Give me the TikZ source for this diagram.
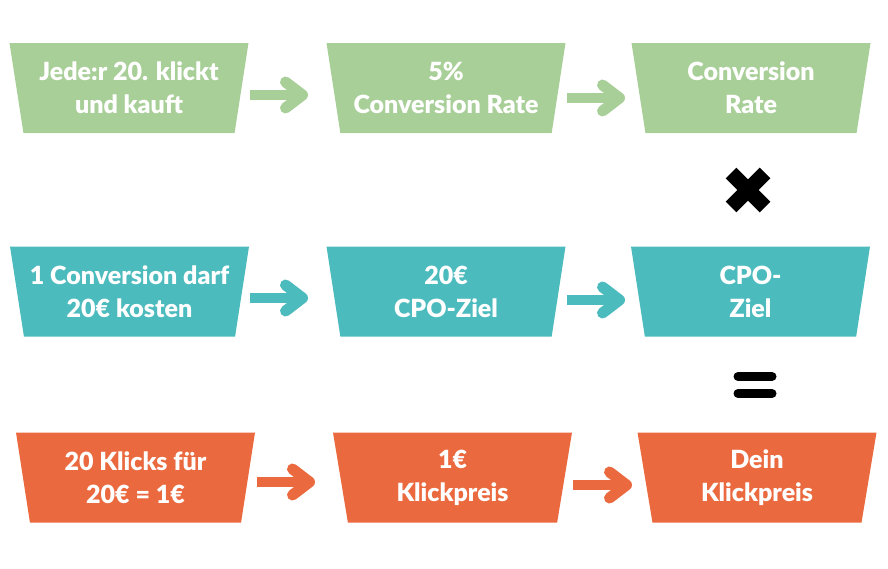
\documentclass[tikz,border=0pt]{standalone}
\usepackage{fontspec}
\setmainfont{Lato}[BoldFont={Lato Black}]
\usetikzlibrary{shapes.geometric,calc}
\definecolor{cgreen}{RGB}{169,207,153}
\definecolor{cteal}{RGB}{76,187,190}
\definecolor{corange}{RGB}{235,105,62}
\tikzset{
  stage/.style={trapezium, trapezium stretches body, shape border rotate=180,
    trapezium angle=75, minimum width=239, minimum height=90, inner sep=0pt,
    text=white, align=center, font=\fontsize{25}{33}\selectfont\bfseries},
  shaft/.style={line width=10},
  chev/.style={line width=11, line cap=round, line join=round},
  opsym/.style={line width=15, black},
  eqbar/.style={line width=9, line cap=round, black}
}
\newcommand\flowarrow[3]{%
  \draw[shaft,#1] (#2) -- ($(#3)+(-4,0)$);
  \draw[chev,#1] ($(#3)+(-17,-13)$) -- (#3) -- ($(#3)+(-17,13)$);
}
\begin{document}
\begin{tikzpicture}[x=1pt,y=-1pt]
\useasboundingbox (0,0) rectangle (888,568);
% row 1
\node[stage, fill=cgreen] (a1) at (129,88) {Jede:r 20. klickt\\und kauft};
\node[stage, fill=cgreen] (b1) at (446,88) {5\%\\Conversion Rate};
\node[stage, fill=cgreen] (c1) at (751,88) {Conversion\\Rate};
% row 2
\node[stage, fill=cteal] (a2) at (129.5,291.5) {1 Conversion darf\\20€ kosten};
\node[stage, fill=cteal] (b2) at (446,291.5) {20€\\CPO-Ziel};
\node[stage, fill=cteal] (c2) at (750.5,291.5) {CPO-\\Ziel};
% row 3
\node[stage, fill=corange] (a3) at (135.5,477.5) {20 Klicks für\\20€ = 1€};
\node[stage, fill=corange] (b3) at (452.5,477.5) {1€\\Klickpreis};
\node[stage, fill=corange] (c3) at (757,477.5) {Dein\\Klickpreis};
% arrow end points
\coordinate (a1o) at ($(a1.center)+(121,7)$);
\coordinate (b1i) at ($(b1.center)+(-143.5,7)$);
\coordinate (b1o) at ($(b1.center)+(121,10)$);
\coordinate (c1i) at ($(c1.center)+(-131.5,10)$);
\coordinate (a2o) at ($(a2.center)+(120.5,6.5)$);
\coordinate (b2i) at ($(b2.center)+(-143.5,6.5)$);
\coordinate (b2o) at ($(b2.center)+(121,8.5)$);
\coordinate (c2i) at ($(c2.center)+(-131,8.5)$);
\coordinate (a3o) at ($(a3.center)+(121.5,4.5)$);
\coordinate (b3i) at ($(b3.center)+(-143,4.5)$);
\coordinate (b3o) at ($(b3.center)+(120.5,7.5)$);
\coordinate (c3i) at ($(c3.center)+(-130.5,7.5)$);
\flowarrow{cgreen}{a1o}{b1i}
\flowarrow{cgreen}{b1o}{c1i}
\flowarrow{cteal}{a2o}{b2i}
\flowarrow{cteal}{b2o}{c2i}
\flowarrow{corange}{a3o}{b3i}
\flowarrow{corange}{b3o}{c3i}
% operators
\coordinate (times) at (748,190);
\draw[opsym] ($(times)+(-17,-17)$) -- ($(times)+(17,17)$);
\draw[opsym] ($(times)+(-17,17)$) -- ($(times)+(17,-17)$);
\coordinate (equals) at (755,385);
\draw[eqbar] ($(equals)+(-17,-8.5)$) -- ($(equals)+(17,-8.5)$);
\draw[eqbar] ($(equals)+(-17,8.5)$) -- ($(equals)+(17,8.5)$);
\end{tikzpicture}
\end{document}
